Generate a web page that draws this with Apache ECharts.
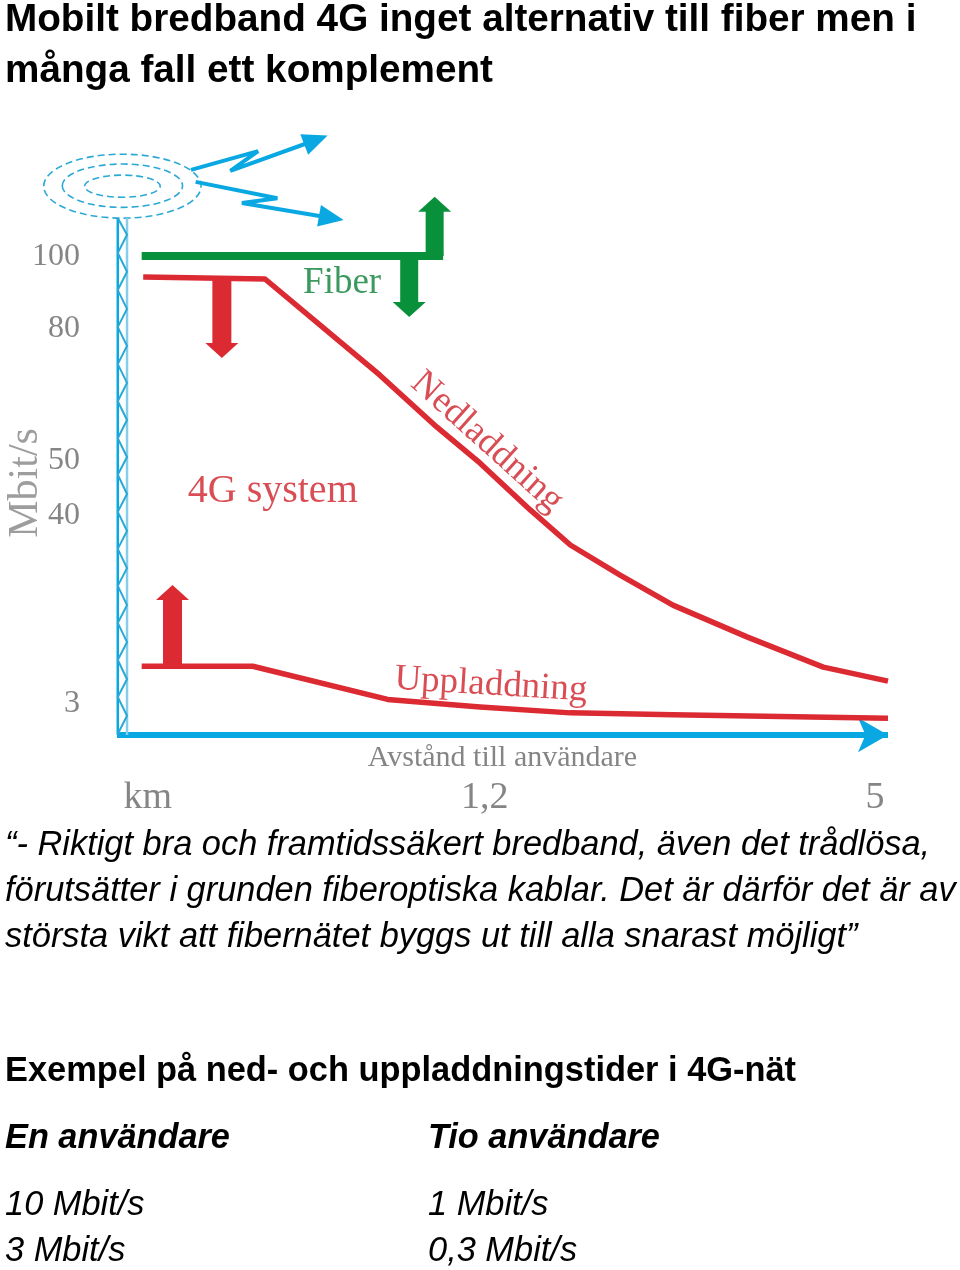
<!DOCTYPE html>
<html>
<head>
<meta charset="utf-8">
<title>Mobilt bredband 4G</title>
<script src="https://cdn.jsdelivr.net/npm/echarts@6/dist/echarts.min.js"></script>
<style>
  html, body { margin: 0; padding: 0; background: #fff; }
  #chart { width: 960px; height: 1270px; }
</style>
</head>
<body>
<div id="chart"></div>
<script>
// The picture is a schematic: both axes are in "position along the axis" (0-100),
// the printed tick labels are not on a linear scale.
var xTickPositions = [4.0, 47.7, 98.3];
var xTickLabels = ['km', '1,2', '5'];
var yTickPositions = [99.4, 84.4, 57.0, 45.6, 6.5];
var yTickLabels = ['100', '80', '50', '40', '3'];

var fiberLine = [[3.2, 99.6], [42.3, 99.6]];
var downloadLine = [[3.4, 95.2], [19.2, 94.8], [34.1, 74.8], [41.5, 64.0], [47.1, 56.5], [53.6, 46.8],
    [58.8, 39.5], [65.2, 33.3], [72.1, 27.0], [81.7, 20.4], [91.6, 14.1], [100, 11.2]];
var uploadLine = [[3.2, 14.3], [17.6, 14.3], [35.1, 7.4], [47.1, 5.8], [58.8, 4.6], [72.1, 4.2], [100, 3.5]];

// [x, from, to]
var fiberArrows = [[41.2, 99.6, 111.9], [37.9, 99.6, 86.9]];
var systemArrows = [[13.6, 94.8, 78.4], [7.2, 14.3, 31.2]];

// mast and antenna
var mastHeights = [107.5, 0];
var mastZigzagHeights = [107.5, 104.0, 100.2, 96.3, 92.5, 88.6, 84.8, 80.9, 77.1, 73.2, 69.4, 65.5, 61.7, 57.8,
    54.1, 50.1, 46.4, 42.4, 38.7, 34.7, 31.0, 27.0, 23.3, 19.3, 15.6, 11.6, 7.9, 4.0, 0.2];
var antennaRings = [[0.7, 114.1, 10.2, 6.65], [0.7, 114.2, 7.8, 4.5], [0.7, 114.1, 4.9, 2.3]];
var signalUpper = [[9.6, 117.5], [18.3, 121.4], [14.7, 117.3], [25.8, 123.7]];
var signalLower = [[10.2, 115.0], [20.8, 111.6], [16.2, 110.6], [27.8, 107.5]];

var headingLines = ['Mobilt bredband 4G inget alternativ till fiber men i', 'många fall ett komplement'];
var quoteLines = ['“- Riktigt bra och framtidssäkert bredband, även det trådlösa,',
    'förutsätter i grunden fiberoptiska kablar. Det är därför det är av',
    'största vikt att fibernätet byggs ut till alla snarast möjligt”'];
var tableTitle = 'Exempel på ned- och uppladdningstider i 4G-nät';
var tableHeaders = ['En användare', 'Tio användare'];
var tableDownload = ['10 Mbit/s', '1 Mbit/s'];
var tableUpload = ['3 Mbit/s', '0,3 Mbit/s'];

var RED = '#dc2a33', GREEN = '#08913a', BLUE = '#0aa8e2', GREY = '#858585';
var RED_TEXT = '#cf2029', GREEN_TEXT = '#0a7f34';
var SERIF = '"Liberation Serif", serif';
var SANS = '"Liberation Sans", Arial, sans-serif';

function textLine(text, left, centerY, size, weight, style) {
    return {
        text: text, left: left, top: centerY - size / 2 + 3, padding: 0,
        textStyle: { fontFamily: SANS, fontSize: size, fontWeight: weight, fontStyle: style, color: '#000' }
    };
}

function lineSeries(data, color, width) {
    return {
        type: 'line', data: data, symbol: 'none', clip: false, silent: true,
        lineStyle: { color: color, width: width, cap: 'butt', join: 'round' }
    };
}

function signalSeries(data, rotate) {
    var points = data.map(function (p, i) {
        if (i < data.length - 1) return { value: p, symbol: 'none' };
        return { value: p, symbol: 'triangle', symbolSize: [22, 25], symbolRotate: rotate,
            itemStyle: { color: BLUE } };
    });
    return {
        type: 'line', data: points, clip: false, silent: true, showSymbol: true, showAllSymbol: true,
        lineStyle: { color: BLUE, width: 4 }
    };
}

function arrowSeries(data, color, shaft, head, headLen) {
    return {
        type: 'custom', clip: false, silent: true, data: data,
        encode: { x: 0, y: [1, 2] },
        renderItem: function (params, api) {
            var a = api.coord([api.value(0), api.value(1)]);
            var b = api.coord([api.value(0), api.value(2)]);
            var dir = b[1] < a[1] ? 1 : -1;
            var neck = b[1] + dir * headLen;
            var x = a[0];
            return {
                type: 'polygon',
                shape: { points: [[x - shaft / 2, a[1]], [x + shaft / 2, a[1]], [x + shaft / 2, neck],
                    [x + head / 2, neck], [x, b[1]], [x - head / 2, neck], [x - shaft / 2, neck]] },
                style: { fill: color }
            };
        }
    };
}

function ringSeries(data) {
    return {
        type: 'custom', clip: false, silent: true, data: data,
        encode: { x: 0, y: 1 },
        renderItem: function (params, api) {
            var c = api.coord([api.value(0), api.value(1)]);
            var r = api.size([api.value(2), api.value(3)]);
            return {
                type: 'ellipse',
                shape: { cx: c[0], cy: c[1], rx: r[0], ry: r[1] },
                style: { fill: 'none', stroke: '#2ba9d6', lineWidth: 1.6, lineDash: [7, 4] }
            };
        }
    };
}

function noteSeries(text, point, color, size, rotate) {
    return {
        type: 'scatter', clip: false, silent: true, symbolSize: 0, data: [point],
        label: {
            show: true, position: 'inside', formatter: text, rotate: rotate || 0,
            color: color, fontFamily: SERIF, fontSize: size
        }
    };
}

var titles = [
    textLine(headingLines[0], 5, 17, 38.7, 'bold', 'normal'),
    textLine(headingLines[1], 5, 68, 38.7, 'bold', 'normal'),
    textLine(quoteLines[0], 5, 843, 34.4, 'normal', 'italic'),
    textLine(quoteLines[1], 5, 889, 34.4, 'normal', 'italic'),
    textLine(quoteLines[2], 5, 935, 34.4, 'normal', 'italic'),
    textLine(tableTitle, 5, 1069, 34.4, 'bold', 'normal'),
    textLine(tableHeaders[0], 5, 1136, 34.3, 'bold', 'italic'),
    textLine(tableHeaders[1], 428, 1136, 34.3, 'bold', 'italic'),
    textLine(tableDownload[0], 5, 1203, 34.4, 'normal', 'italic'),
    textLine(tableDownload[1], 428, 1203, 34.4, 'normal', 'italic'),
    textLine(tableUpload[0], 5, 1249, 34.4, 'normal', 'italic'),
    textLine(tableUpload[1], 428, 1249, 34.4, 'normal', 'italic')
];

var chart = echarts.init(document.getElementById('chart'), null, { renderer: 'canvas' });
var option = {
    animation: false,
    backgroundColor: '#fff',
    title: titles,
    grid: { left: 117, width: 771, top: 133.75, height: 601.25 },
    xAxis: {
        type: 'value', min: 0, max: 100,
        splitLine: { show: false },
        axisTick: { show: false },
        axisLine: {
            show: true, onZero: false,
            lineStyle: { color: BLUE, width: 6, cap: 'butt' },
            symbol: ['none', 'arrow'], symbolSize: [26, 30], symbolOffset: [0, 0]
        },
        axisLabel: {
            customValues: xTickPositions, margin: 44,
            formatter: function (v) { return xTickLabels[xTickPositions.indexOf(v)]; },
            color: GREY, fontFamily: SERIF, fontSize: 38
        },
        name: 'Avstånd till användare', nameLocation: 'middle', nameGap: 8, nameMoveOverlap: false,
        nameTextStyle: { color: GREY, fontFamily: SERIF, fontSize: 30 }
    },
    yAxis: {
        type: 'value', min: 0, max: 125,
        splitLine: { show: false },
        axisTick: { show: false },
        axisLine: { show: false },
        axisLabel: {
            customValues: yTickPositions, margin: 37,
            padding: [4, 0, 0, 0],
            formatter: function (v) { return yTickLabels[yTickPositions.indexOf(v)]; },
            color: GREY, fontFamily: SERIF, fontSize: 32
        }
    },
    series: [
        lineSeries(mastHeights.map(function (h) { return [0.1, h]; }), BLUE, 2.5),
        lineSeries(mastHeights.map(function (h) { return [1.3, h]; }), '#86cdec', 2.5),
        lineSeries(mastZigzagHeights.map(function (h, i) { return [i % 2 ? 1.3 : 0.1, h]; }), '#2ba9d6', 2),
        ringSeries(antennaRings),
        signalSeries(signalUpper, -69),
        signalSeries(signalLower, -100),
        arrowSeries(fiberArrows, GREEN, 18, 33, 15),
        arrowSeries(systemArrows, RED, 19, 33, 15),
        lineSeries(fiberLine, GREEN, 8),
        lineSeries(downloadLine, RED, 5.5),
        lineSeries(uploadLine, RED, 5.5),
        noteSeries('Fiber', [29.2, 93.9], GREEN_TEXT, 37),
        noteSeries('4G system', [20.2, 50.7], RED_TEXT, 40),
        noteSeries('Nedladdning', [48.0, 60.9], RED_TEXT, 37, -42),
        noteSeries('Uppladdning', [48.5, 10.4], RED_TEXT, 37, -3.5),
        noteSeries('Mbit/s', [-11.8, 52.4], GREY, 42, 90)
    ]
};
chart.setOption(option);
</script>
</body>
</html>
